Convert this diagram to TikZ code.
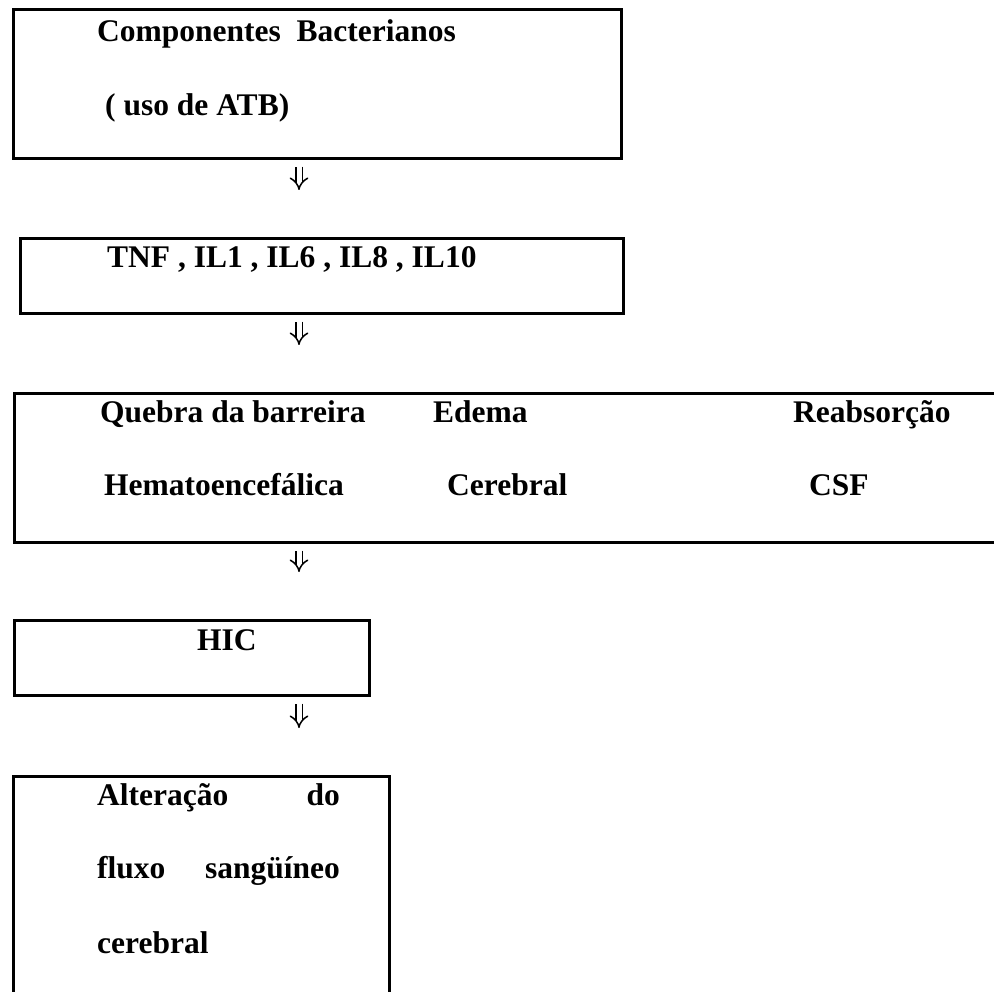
\documentclass[tikz,border=0pt]{standalone}
\usepackage{fontspec}
\setmainfont{Liberation Serif}
\usetikzlibrary{arrows.meta}
\tikzset{
  box/.style={draw=black, line width=2.6pt, rectangle, inner sep=0pt, anchor=north west},
  txt/.style={inner sep=0pt, anchor=base west, font=\fontsize{31.5}{36}\selectfont\bfseries},
  txte/.style={txt, anchor=base east},
  dblarrow/.style={draw=black, double, double distance=5pt, line width=1.5pt,
    -{Implies[length=8pt, width=17pt]}, shorten <=7pt, shorten >=47pt}
}
\begin{document}
\begin{tikzpicture}[x=1pt,y=-1pt]
\useasboundingbox (0,0) rectangle (994,992);
% boxes
\node[box, minimum width=608pt, minimum height=149pt] (b1) at (12,8) {};
\node[box, minimum width=603pt, minimum height=75pt] (b2) at (19,237) {};
\node[box, minimum width=1000pt, minimum height=149pt] (b3) at (13,392) {};
\node[box, minimum width=355pt, minimum height=75pt] (b4) at (13,619) {};
\node[box, minimum width=376pt, minimum height=240pt] (b5) at (12,775) {};
% texts
\node[txt] (t1a) at (97,42) {Componentes\ \ Bacterianos};
\node[txt] (t1b) at (105,116) {( uso de ATB)};
\node[txt] (t2) at (107,268) {TNF , IL1 , IL6 , IL8 , IL10};
\node[txt] (t3a) at (100,423) {Quebra da barreira};
\node[txt] (t3b) at (433,423) {Edema};
\node[txt] (t3c) at (793,423) {Reabsorção};
\node[txt] (t3d) at (104,495) {Hematoencefálica};
\node[txt] (t3e) at (447,495) {Cerebral};
\node[txt] (t3f) at (809,495) {CSF};
\node[txt] (t4) at (197,650) {HIC};
\node[txt] (t5a) at (97,805) {Alteração};
\node[txte] (t5b) at (340,805) {do};
\node[txt] (t5c) at (97,878) {fluxo};
\node[txte] (t5d) at (340,878) {sangüíneo};
\node[txt] (t5e) at (97,953) {cerebral};
% arrows
\coordinate (ax) at (299,0);
\draw[dblarrow] (b1.south -| ax) -- (b2.north -| ax);
\draw[dblarrow] (b2.south -| ax) -- (b3.north -| ax);
\draw[dblarrow] (b3.south -| ax) -- (b4.north -| ax);
\draw[dblarrow] (b4.south -| ax) -- (b5.north -| ax);
\end{tikzpicture}
\end{document}
